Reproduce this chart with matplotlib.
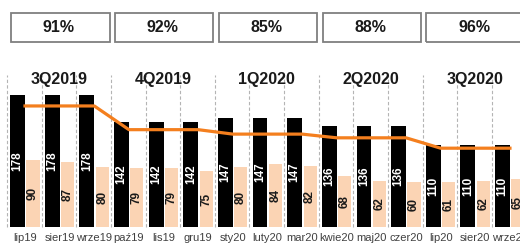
import matplotlib
matplotlib.use("Agg")
import matplotlib.pyplot as plt
from matplotlib.patches import Rectangle

# data
months = ["lip19", "sier19", "wrze19", "paź19", "lis19", "gru19", "sty20", "luty20",
          "mar20", "kwie20", "maj20", "czer20", "lip20", "sier20", "wrze20"]
black_vals = [178, 178, 178, 142, 142, 142, 147, 147, 147, 136, 136, 136, 110, 110, 110]
peach_vals = [90, 87, 80, 79, 79, 75, 80, 84, 82, 68, 62, 60, 61, 62, 65]
line_vals = [163, 163, 163, 131, 131, 131, 125, 125, 125, 120, 120, 120, 106, 106, 106]
quarters = ["3Q2019", "4Q2019", "1Q2020", "2Q2020", "3Q2020"]
quarter_pct = ["91%", "92%", "85%", "88%", "96%"]

BLACK = "#000000"
PEACH = "#FBD4B4"
ORANGE = "#F47F1E"
fam = ["Liberation Sans", "DejaVu Sans"]

fig = plt.figure(figsize=(5.2, 2.46), dpi=100)
ax = fig.add_axes([0, 0, 1, 1])
ax.set_xlim(-0.202, 14.81)
ax.set_ylim(-26.0, 306.0)
ax.axis("off")

n = len(months)
xs = list(range(n))

# dashed separators between months
for i in range(n):
    ax.plot([i, i], [0, 205], color="#B4B4B4", lw=0.8, ls=(0, (3, 2)), zorder=0)

bx = [x + 0.305 for x in xs]
px = [x + 0.75 for x in xs]
ax.bar(bx, black_vals, width=0.43, color=BLACK, zorder=2)
ax.bar(px, peach_vals, width=0.38, color=PEACH, zorder=2)

lx = [x + 0.52 for x in xs]
ax.plot(lx, line_vals, color=ORANGE, lw=2.3, zorder=3, solid_joinstyle="round")

for i in range(n):
    ax.text(bx[i], black_vals[i] / 2, str(black_vals[i]), rotation=90, color="white",
            ha="center", va="center", fontsize=8.5, fontweight="bold", family=fam, zorder=4)
    ax.text(px[i], peach_vals[i] / 2, str(peach_vals[i]), rotation=90, color="#1a1a1a",
            ha="center", va="center", fontsize=8.5, fontweight="bold", family=fam, zorder=4)
    ax.text(xs[i] + 0.52, -15.5, months[i], ha="center", va="center", fontsize=8,
            color="#404040", family=fam, clip_on=False)

# quarter headers and boxes
for k, q in enumerate(quarters):
    c = 3 * k + 1.5
    ax.text(c, 199, q, ha="center", va="center", fontsize=11.5, fontweight="bold",
            color="#1a1a1a", family=fam)
    ax.add_patch(Rectangle((3 * k + 0.11, 249), 2.85, 39, fill=False,
                           edgecolor="#7f7f7f", lw=1.3, clip_on=False))
    ax.text(c, 269, quarter_pct[k], ha="center", va="center", fontsize=11.5,
            fontweight="bold", color="#1a1a1a", family=fam)

fig.savefig("out.png", dpi=100)
